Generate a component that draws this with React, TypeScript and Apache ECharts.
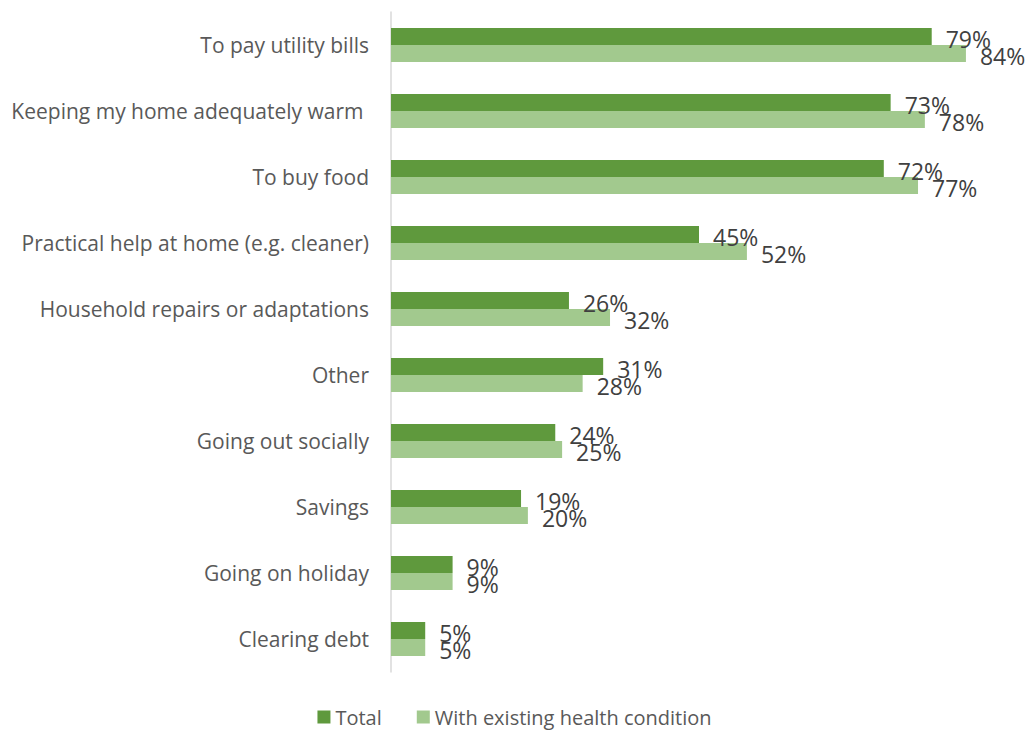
import React, { useEffect, useRef } from "react";
import * as echarts from "echarts";

const categories = [
  "To pay utility bills",
  "Keeping my home adequately warm ",
  "To buy food",
  "Practical help at home (e.g. cleaner)",
  "Household repairs or adaptations",
  "Other",
  "Going out socially",
  "Savings",
  "Going on holiday",
  "Clearing debt",
];
const totalValues = [79, 73, 72, 45, 26, 31, 24, 19, 9, 5];
const healthValues = [84, 78, 77, 52, 32, 28, 25, 20, 9, 5];
const seriesNames = ["Total", "With existing health condition"];

const FONT = "'Open Sans', sans-serif";

export default function App() {
  const ref = useRef<HTMLDivElement>(null);
  useEffect(() => {
    if (!ref.current) return;
    const chart = echarts.init(ref.current, undefined, { renderer: "svg" });
    const label = {
      show: true,
      position: "right" as const,
      distance: 14,
      offset: [0, 2],
      formatter: "{c}%",
      color: "#404040",
      fontSize: 23,
      fontFamily: FONT,
    };
    chart.setOption({
      animation: false,
      backgroundColor: "#ffffff",
      textStyle: { fontFamily: FONT },
      grid: { left: 391, top: 12, width: 616, height: 660, containLabel: false },
      legend: {
        top: 702,
        left: "center",
        itemWidth: 13,
        itemHeight: 13,
        itemGap: 35,
        icon: "rect",
        textStyle: { color: "#595959", fontSize: 20, fontFamily: FONT },
        data: seriesNames,
      },
      xAxis: {
        type: "value",
        min: 0,
        max: 90,
        show: false,
        splitLine: { show: false },
      },
      yAxis: {
        type: "category",
        data: categories,
        inverse: true,
        axisTick: { show: false },
        axisLine: { show: true, lineStyle: { color: "#d9d9d9", width: 1.5 } },
        axisLabel: { color: "#595959", fontSize: 21, fontFamily: FONT, margin: 22 },
      },
      series: [
        {
          name: seriesNames[0],
          type: "bar",
          data: totalValues,
          barWidth: 17,
          barGap: "0%",
          itemStyle: { color: "#5f993d" },
          label,
        },
        {
          name: seriesNames[1],
          type: "bar",
          data: healthValues,
          barWidth: 17,
          barGap: "0%",
          itemStyle: { color: "#a2c98e" },
          label,
        },
      ],
    });
    return () => chart.dispose();
  }, []);
  return (
    <div
      ref={ref}
      style={{ position: "absolute", left: 0, top: 0, width: 1029, height: 733 }}
    />
  );
}
